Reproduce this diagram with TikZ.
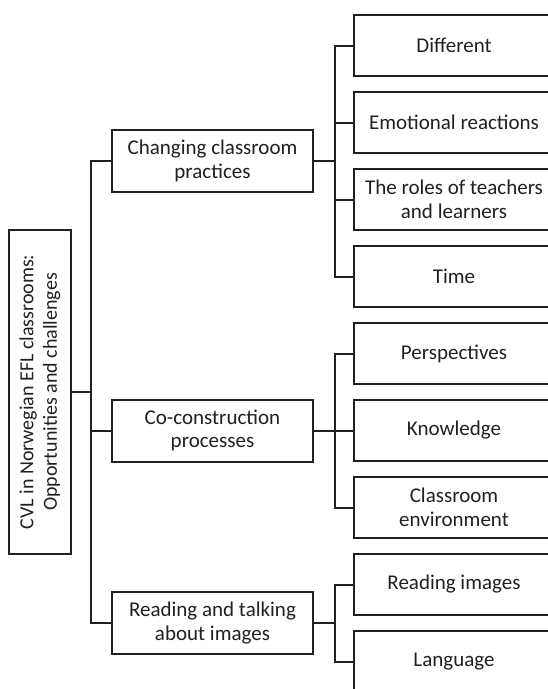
\documentclass[tikz,border=0pt]{standalone}
\usepackage{fontspec}
\setmainfont{Carlito}
\usepackage{tikz}
\usetikzlibrary{calc}

\definecolor{inchiostro}{RGB}{35,31,32}

\tikzset{
  scatola/.style={draw=inchiostro, text=inchiostro, line width=2pt, align=center,
    minimum width=201pt, minimum height=62pt, inner sep=2pt,
    font=\fontsize{21}{23.5}\selectfont},
  ramo/.style={draw=inchiostro, line width=2pt}
}

\begin{document}
\begin{tikzpicture}[x=1pt,y=-1pt]
  \clip (0,0) rectangle (548,689);

  % radice
  \node[scatola, rotate=90, minimum width=324pt, font=\fontsize{20}{23.5}\selectfont]
    (radice) at (40,392) {CVL in Norwegian EFL classrooms:\\Opportunities and challenges};

  % temi
  \node[scatola] (pratiche) at (212.5,161) {Changing classroom\\practices};
  \node[scatola] (costruz) at (212.5,430.5) {Co-construction\\processes};
  \node[scatola] (immagini) at (212.5,623) {Reading and talking\\about images};

  % sottotemi
  \node[scatola, minimum height=61pt] (diverso) at (454,45.5) {Different};
  \node[scatola, minimum height=61pt] (emozioni) at (454,122.5) {Emotional reactions};
  \node[scatola, minimum height=61pt] (ruoli) at (454,199.5) {The roles of teachers\\and learners};
  \node[scatola, minimum height=61pt] (tempo) at (454,276.5) {Time};
  \node[scatola, minimum height=61pt] (prospettive) at (454,353.5) {Perspectives};
  \node[scatola, minimum height=61pt] (conoscenza) at (454,430.5) {Knowledge};
  \node[scatola, minimum height=61pt] (ambiente) at (454,507.5) {Classroom\\environment};
  \node[scatola, minimum height=61pt] (lettura) at (454,584.5) {Reading images};
  \node[scatola, minimum height=61pt] (lingua) at (454,661.5) {Language};

  % rami
  \foreach \t in {pratiche,costruz,immagini}
    \draw[ramo] (radice.south) -- ++(19,0) |- (\t.west);
  \foreach \s in {diverso,emozioni,ruoli,tempo}
    \draw[ramo] (pratiche.east) -- ++(21,0) |- (\s.west);
  \foreach \s in {prospettive,conoscenza,ambiente}
    \draw[ramo] (costruz.east) -- ++(21,0) |- (\s.west);
  \foreach \s in {lettura,lingua}
    \draw[ramo] (immagini.east) -- ++(21,0) |- (\s.west);
\end{tikzpicture}
\end{document}
